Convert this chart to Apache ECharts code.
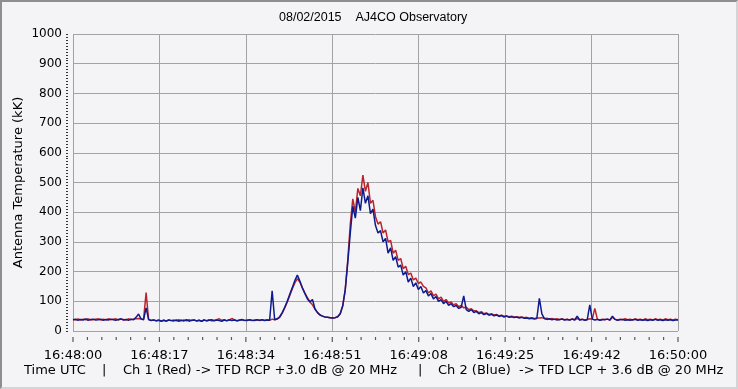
<!DOCTYPE html>
<html>
<head>
<meta charset="utf-8">
<script src="https://cdn.jsdelivr.net/npm/echarts@6/dist/echarts.min.js"></script>
<style>
  html, body { margin: 0; padding: 0; background: #F4F4F7; }
  #wrap { position: relative; width: 738px; height: 389px; overflow: hidden; }
  #chart { position: absolute; left: 0; top: 0; width: 738px; height: 389px; }
  #frame { position: absolute; left: 0; top: 0; width: 738px; height: 389px; box-sizing: border-box;
           border-top: 2px solid #8E8E8E; border-left: 2px solid #8E8E8E;
           border-right: 2px solid #D4D4D6; border-bottom: 2px solid #D4D4D6; pointer-events: none; }
</style>
</head>
<body>
<div id="wrap"><div id="chart"></div><div id="frame"></div></div>
<script>
// ---- data ----
const titleText = '08/02/2015    AJ4CO Observatory';
const yAxisTitle = 'Antenna Temperature (kK)';
const timeTickLabels = ['16:48:00','16:48:17','16:48:34','16:48:51','16:49:08','16:49:25','16:49:42','16:50:00'];
const footerParts = ['Time UTC', '|', 'Ch 1 (Red) -> TFD RCP +3.0 dB @ 20 MHz', '|', 'Ch 2 (Blue)  -> TFD LCP + 3.6 dB @ 20 MHz'];
const spanSeconds = 120;     // 16:48:00 .. 16:50:00
const sampleStepSeconds = 0.5;
const minorTicksPerLabel = 6;

// Ch 1 (Red), kK, one sample every 0.5 s from 16:48:00
const ch1Red = [
  39,37,41,37,40,38,41,37,38,40,41,37,40,37,41,38,40,41,37,40,
  39,37,41,38,40,41,42,40,39,129,38,36,37,35,37,34,36,33,37,35,
  37,34,38,35,37,34,38,35,37,34,36,33,37,35,38,34,36,38,41,36,
  38,35,37,42,38,35,37,39,35,37,38,35,37,38,35,38,36,38,36,40,
  38,40,46,60,78,98,120,142,162,176,165,145,128,112,98,88,74,62,54,50,
  47,46,45,44,45,48,58,84,138,240,360,445,400,480,455,525,470,500,430,440,
  385,360,368,330,340,300,305,262,272,238,244,210,218,190,195,172,178,160,165,150,
  145,128,135,118,124,108,114,100,106,94,98,88,92,82,86,78,80,72,75,68,
  68,62,65,58,61,56,58,54,56,51,53,50,51,48,50,47,48,46,47,45,
  46,43,45,42,44,44,45,42,43,40,42,39,41,38,41,38,40,37,41,38,
  42,38,40,37,39,41,40,76,40,37,40,38,40,37,46,40,37,40,38,41,
  38,40,37,41,38,40,37,41,38,40,37,41,38,40,37,41,38,40,37,40,38
];
// Ch 2 (Blue), kK, same sampling
const ch2Blue = [
  38,40,36,39,37,41,36,39,40,37,38,40,36,39,37,40,38,36,39,41,
  37,39,36,40,38,46,57,41,38,78,39,35,37,34,36,33,36,34,37,35,
  34,37,33,36,34,38,33,36,37,34,36,33,37,34,36,38,34,37,35,33,
  37,34,38,35,37,34,36,38,36,35,38,36,35,38,36,38,35,37,36,135,
  38,41,48,62,80,100,124,146,170,188,168,145,126,108,98,106,74,62,54,50,
  47,46,45,44,45,48,58,85,140,230,330,420,380,450,405,482,430,455,395,410,
  355,330,338,300,312,262,280,238,250,215,222,188,200,165,178,150,162,140,150,128,
  136,118,126,108,116,100,106,92,100,86,92,82,86,76,80,118,72,66,72,62,
  66,58,62,55,59,53,56,51,54,49,52,47,50,46,48,45,47,44,46,43,
  44,41,43,40,42,110,58,42,39,41,38,40,37,39,40,37,39,37,40,37,
  50,37,39,36,38,88,40,37,39,36,38,39,40,37,50,39,36,38,39,36,
  38,36,38,39,36,38,36,38,35,38,36,39,36,38,35,38,36,38,35,37,37
];

// ---- build ----
// x axis works in "sevenths of a second" so that the 7 label intervals are whole numbers
const unitsPerSecond = timeTickLabels.length - 1;
const xMax = spanSeconds * unitsPerSecond;
const xStep = spanSeconds;
const toPairs = arr => arr.map((v, i) => [i * sampleStepSeconds * unitsPerSecond, v]);
// tick-mark positions along the time axis (one per label, plus minor subdivisions)
const majorTickPos = timeTickLabels.map((_, k) => [k * xStep, 0]);
const minorTickPos = [];
for (let k = 0; k < timeTickLabels.length - 1; k++) {
  for (let j = 1; j < minorTicksPerLabel; j++) minorTickPos.push([k * xStep + j * xStep / minorTicksPerLabel, 0]);
}
const FONT = 'DejaVu Sans';
const bgColor = '#F4F4F7';
const gridColor = '#A3A3A6';
const tickColor = '#2E2E3E';

const chart = echarts.init(document.getElementById('chart'), null, { renderer: 'canvas' });
chart.setOption({
  backgroundColor: bgColor,
  animation: false,
  title: {
    text: titleText, left: 279, top: 11, padding: 0,
    textStyle: { fontFamily: 'Liberation Sans', fontSize: 12.5, fontWeight: 'normal', color: '#000' }
  },
  grid: [
    { left: 73, top: 34, right: 60, bottom: 58 },    // 0: plot
    { left: 73, top: 34, right: 60, bottom: 52 },    // 1: x axis 6px below plot: labels
    { left: 68, top: 34, right: 60, bottom: 58 }     // 2: y ticks/labels, 5px left of plot
  ],
  xAxis: [
    { gridIndex: 0, type: 'value', min: 0, max: xMax, interval: xStep,
      axisLine: { show: false }, axisTick: { show: false }, axisLabel: { show: false },
      splitLine: { show: true, lineStyle: { color: gridColor, width: 1 } } },
    { gridIndex: 1, type: 'value', min: 0, max: xMax, interval: xStep, position: 'bottom',
      axisLine: { show: false }, axisTick: { show: false }, splitLine: { show: false },
      axisLabel: { margin: 12, fontFamily: FONT, fontSize: 13, color: '#000',
        formatter: v => timeTickLabels[Math.round(v / xStep)] || '' } },
    { gridIndex: 2, type: 'value', min: 0, max: xMax, show: false }
  ],
  yAxis: [
    { gridIndex: 0, type: 'value', min: 0, max: 1000, interval: 100,
      axisLine: { show: false }, axisTick: { show: false }, axisLabel: { show: false },
      splitLine: { show: true, lineStyle: { color: gridColor, width: 1 } } },
    { gridIndex: 1, type: 'value', min: 0, max: 1000, show: false },
    { gridIndex: 2, type: 'value', min: 0, max: 1000, interval: 100, position: 'left',
      axisLine: { show: false },
      axisTick: { show: true, length: 2, lineStyle: { color: '#333', width: 1 } },
      minorTick: { show: true, splitNumber: 10, length: 2, lineStyle: { color: '#333', width: 1 } },
      splitLine: { show: false },
      axisLabel: { margin: 6, fontFamily: FONT, fontSize: 12, color: '#000', formatter: v => String(v) } }
  ],
  series: [
    { name: 'Ch 1 (Red)', type: 'line', xAxisIndex: 0, yAxisIndex: 0, data: toPairs(ch1Red),
      showSymbol: false, symbol: 'none', lineStyle: { color: '#B8262C', width: 1.5 }, z: 2 },
    { name: 'Ch 2 (Blue)', type: 'line', xAxisIndex: 0, yAxisIndex: 0, data: toPairs(ch2Blue),
      showSymbol: false, symbol: 'none', lineStyle: { color: '#0E1A8E', width: 1.5 }, z: 3 },
    // time-axis tick marks, hung 6px below the plot bottom
    { name: 'major ticks', type: 'scatter', xAxisIndex: 0, yAxisIndex: 0, data: majorTickPos,
      symbol: 'rect', symbolSize: [1.2, 5], symbolOffset: [0, 8.5], clip: false, silent: true,
      itemStyle: { color: tickColor }, z: 5 },
    { name: 'minor ticks', type: 'scatter', xAxisIndex: 0, yAxisIndex: 0, data: minorTickPos,
      symbol: 'rect', symbolSize: [1.2, 3], symbolOffset: [0, 7.5], clip: false, silent: true,
      itemStyle: { color: tickColor }, z: 5 }
  ],
  graphic: [
    { type: 'text', x: 18.5, y: 182.5, rotation: Math.PI / 2,
      style: { text: yAxisTitle, fontFamily: FONT, fontSize: 13, fill: '#000', align: 'center', verticalAlign: 'middle' } },
    { type: 'text', left: 24, top: 364, style: { text: footerParts[0], fontFamily: FONT, fontSize: 13, fill: '#000' } },
    { type: 'text', left: 102, top: 364, style: { text: footerParts[1], fontFamily: FONT, fontSize: 13, fill: '#000' } },
    { type: 'text', left: 123, top: 364, style: { text: footerParts[2], fontFamily: FONT, fontSize: 13, fill: '#000' } },
    { type: 'text', left: 418, top: 364, style: { text: footerParts[3], fontFamily: FONT, fontSize: 13, fill: '#000' } },
    { type: 'text', left: 438, top: 364, style: { text: footerParts[4], fontFamily: FONT, fontSize: 13, fill: '#000' } }
  ]
});
</script>
</body>
</html>
